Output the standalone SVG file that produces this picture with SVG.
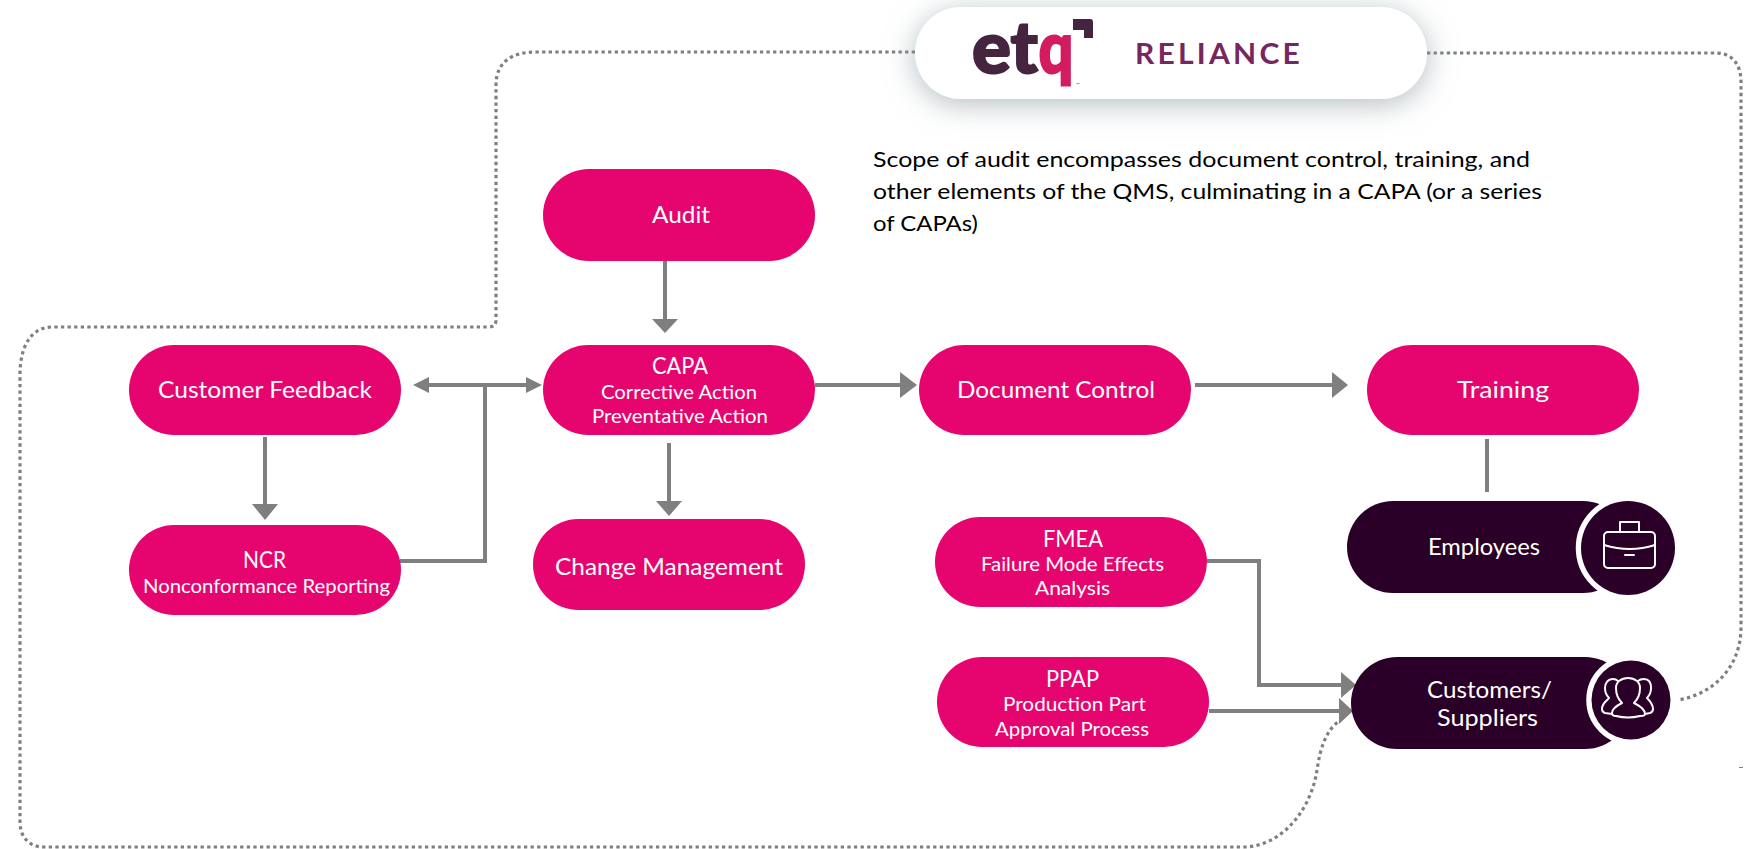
<svg xmlns="http://www.w3.org/2000/svg" width="1756" height="849" viewBox="0 0 1756 849">
<style>
.pill{fill:#E6056F}
.dark{fill:#2A0028}
.ring{fill:#2A0028;stroke:#fff;stroke-width:10.500;paint-order:stroke}
text{font-family:"Lato","Open Sans","Liberation Sans",sans-serif;fill:#fff;text-anchor:middle}
.t{font-size:23px}
.s{font-size:19.5px}
.note{font-size:22px;fill:#000;text-anchor:start}
.ln{fill:none;stroke:#7F7F7F;stroke-width:4}
.dot{fill:none;stroke:#7F7F7F;stroke-width:3.2;stroke-dasharray:3.3 3.3}
.head{fill:#7F7F7F}
.ic{fill:none;stroke:#fff;stroke-width:2;stroke-linejoin:round;stroke-linecap:round}
</style>
<defs>
<filter id="sh" x="-15%" y="-60%" width="130%" height="280%"><feDropShadow dx="0" dy="5" stdDeviation="15" flood-color="#8A9AA0" flood-opacity="0.65"/></filter>
</defs>
<rect width="1756" height="849" fill="#fff"/>
<g id="connectors">
<path class="dot" d="M915 52H536C512 52 496 62 496 85V320Q496 327 489 327H52C32 327 20 345 20 375V822C20 838 30 847 44 847H1247C1290 843 1313 800 1317 770C1320 750 1325 732 1338 722"/>
<path class="dot" d="M1427 53H1716C1732 53 1741 64 1741 82V627C1741 670 1710 695 1678 700"/>
<path class="ln" d="M665 261V320"/><polygon class="head" points="652,319 678,319 665,333"/>
<path class="ln" d="M815 385H901"/><polygon class="head" points="900,372 900,398 917,385"/>
<path class="ln" d="M1195 385H1333"/><polygon class="head" points="1332,372 1332,398 1348,385"/>
<path class="ln" d="M428 385H527"/><polygon class="head" points="429,377 429,393 413,385"/><polygon class="head" points="526,377 526,393 542,385"/>
<path class="ln" d="M400 561H485V385"/>
<path class="ln" d="M265 437V505"/><polygon class="head" points="252,504 278,504 265,520"/>
<path class="ln" d="M669 443V502"/><polygon class="head" points="656,501 682,501 669,516"/>
<path class="ln" d="M1487 439V492"/>
<path class="ln" d="M1207 561H1259V685H1342"/><polygon class="head" points="1341,672 1341,698 1356,685"/>
<path class="ln" d="M1209 711H1340"/><polygon class="head" points="1339,698 1339,724 1353,711"/>
</g>
<g id="header">
<rect x="915" y="7" width="512" height="92" rx="46" fill="#fff" filter="url(#sh)"/>
<text x="1005" y="73" font-size="72" font-weight="900" textLength="66" lengthAdjust="spacingAndGlyphs" style="fill:#45243F;stroke:#45243F;stroke-width:2">et</text>
<text x="1056" y="73" font-size="72" font-weight="900" textLength="35" lengthAdjust="spacingAndGlyphs" style="fill:#D31C5F;stroke:#D31C5F;stroke-width:2">q</text>
<path d="M1073 19H1090Q1093 19 1093 22V38H1084V30H1073Z" fill="#45243F"/>
<text x="1078" y="86" font-size="4" style="fill:#45243F">™</text>
<text x="1219" y="64" font-size="28" font-weight="700" textLength="168" lengthAdjust="spacingAndGlyphs" style="fill:#76275F;letter-spacing:3px">RELIANCE</text>
</g>
<g id="note">
<text class="note" x="873" y="167" textLength="657" lengthAdjust="spacingAndGlyphs">Scope of audit encompasses document control, training, and</text>
<text class="note" x="873" y="199" textLength="669" lengthAdjust="spacingAndGlyphs">other elements of the QMS, culminating in a CAPA (or a series</text>
<text class="note" x="873" y="231" textLength="105" lengthAdjust="spacingAndGlyphs">of CAPAs)</text>
</g>
<g id="audit"><rect class="pill" x="543" y="169" width="272" height="92" rx="46"/><text class="t" x="681" y="223" textLength="58" lengthAdjust="spacingAndGlyphs">Audit</text></g>
<g id="capa"><rect class="pill" x="543" y="345" width="272" height="90" rx="45"/><text class="t" x="680" y="374" textLength="56" lengthAdjust="spacingAndGlyphs">CAPA</text><text class="s" x="679" y="399" textLength="156" lengthAdjust="spacingAndGlyphs">Corrective Action</text><text class="s" x="680" y="423" textLength="176" lengthAdjust="spacingAndGlyphs">Preventative Action</text></g>
<g id="customer-feedback"><rect class="pill" x="129" y="345" width="272" height="90" rx="45"/><text class="t" x="265" y="398" textLength="214" lengthAdjust="spacingAndGlyphs">Customer Feedback</text></g>
<g id="ncr"><rect class="pill" x="129" y="525" width="272" height="90" rx="45"/><text class="t" x="264.500" y="568" textLength="43" lengthAdjust="spacingAndGlyphs">NCR</text><text class="s" x="266.500" y="593" textLength="247" lengthAdjust="spacingAndGlyphs">Nonconformance Reporting</text></g>
<g id="change-management"><rect class="pill" x="533" y="519" width="272" height="91" rx="45.500"/><text class="t" x="669" y="575" textLength="228" lengthAdjust="spacingAndGlyphs">Change Management</text></g>
<g id="document-control"><rect class="pill" x="919" y="345" width="272" height="90" rx="45"/><text class="t" x="1056" y="398" textLength="198" lengthAdjust="spacingAndGlyphs">Document Control</text></g>
<g id="training"><rect class="pill" x="1367" y="345" width="272" height="90" rx="45"/><text class="t" x="1503" y="398" textLength="92" lengthAdjust="spacingAndGlyphs">Training</text></g>
<g id="fmea"><rect class="pill" x="935" y="517" width="272" height="90" rx="45"/><text class="t" x="1073" y="547" textLength="60" lengthAdjust="spacingAndGlyphs">FMEA</text><text class="s" x="1072.500" y="571" textLength="183" lengthAdjust="spacingAndGlyphs">Failure Mode Effects</text><text class="s" x="1072.500" y="595" textLength="75" lengthAdjust="spacingAndGlyphs">Analysis</text></g>
<g id="ppap"><rect class="pill" x="937" y="657" width="272" height="90" rx="45"/><text class="t" x="1072.500" y="687" textLength="53" lengthAdjust="spacingAndGlyphs">PPAP</text><text class="s" x="1074.500" y="711" textLength="143" lengthAdjust="spacingAndGlyphs">Production Part</text><text class="s" x="1072" y="736" textLength="154" lengthAdjust="spacingAndGlyphs">Approval Process</text></g>
<g id="employees"><rect class="dark" x="1347" y="501" width="282" height="92" rx="46"/><circle class="ring" cx="1628" cy="548" r="47"/><text class="t" x="1484" y="555" textLength="112" lengthAdjust="spacingAndGlyphs">Employees</text>
<rect class="ic" x="1604" y="532" width="51" height="36" rx="4"/><path class="ic" d="M1620 532V522H1639V532M1604 545Q1630 553 1655 545M1625 555H1634"/></g>
<g id="customers-suppliers"><rect class="dark" x="1351" y="657" width="280" height="92" rx="46"/><circle class="ring" cx="1631" cy="700" r="39.500"/><text class="t" x="1489.500" y="698" textLength="125" lengthAdjust="spacingAndGlyphs">Customers/</text><text class="t" x="1487.500" y="726" textLength="101" lengthAdjust="spacingAndGlyphs">Suppliers</text>
<path class="ic" d="M1622 703C1617 698 1616 692 1616 688C1616 682 1621 678 1628 678C1635 678 1640 682 1640 688C1640 692 1639 698 1634 703C1640 706 1645 709 1645 714Q1645 716 1640 716Q1628 719 1616 716Q1612 716 1612 713C1612 709 1616 706 1622 703Z"/>
<path class="ic" d="M1618 681C1616 679 1614 679 1613 679C1608 679 1605 683 1605 688C1605 692 1607 696 1609 698C1607 701 1602 703 1602 709Q1602 712 1605 713L1612 714"/>
<path class="ic" d="M1638 681C1640 679 1642 679 1644 679C1649 679 1651 683 1651 688C1651 692 1649 696 1647 698C1650 701 1653 704 1653 709Q1653 712 1650 713L1645 714"/></g>
<rect x="1739" y="767" width="4" height="1" fill="#7F7F7F"/>
</svg>
